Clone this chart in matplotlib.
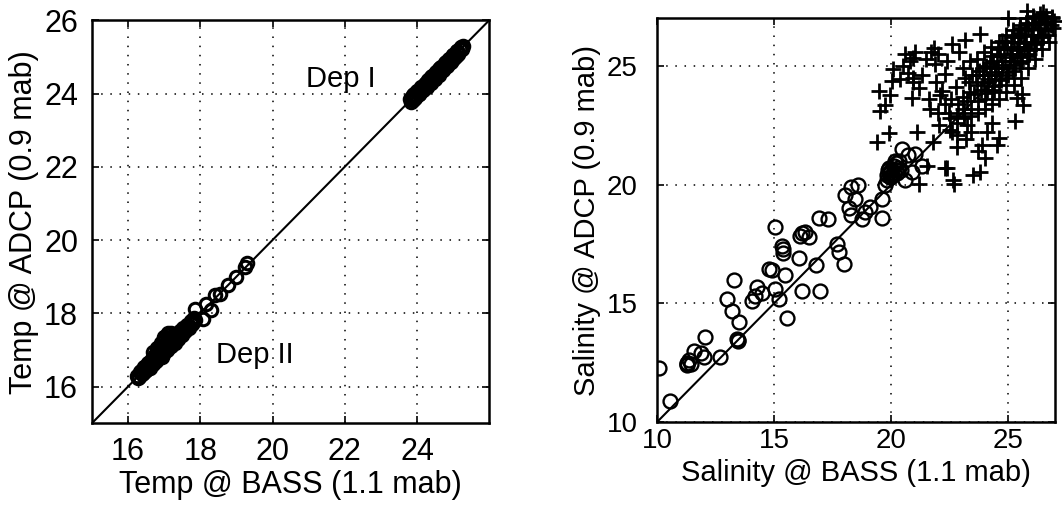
import matplotlib
matplotlib.use("Agg")
import matplotlib.pyplot as plt
import numpy as np

plt.rcParams['font.family'] = ['Liberation Sans', 'DejaVu Sans']

# ---- temperature, Dep I (cluster near 24-25) ----
temp1_bass = [23.80, 23.86, 23.92, 23.97, 24.02, 24.08, 24.13, 24.18, 24.24, 24.30,
              24.35, 24.41, 24.46, 24.52, 24.57, 24.63, 24.68, 24.74, 24.80, 24.85,
              24.91, 24.96, 25.02, 25.07, 25.12, 25.18, 25.23, 25.28, 24.05, 24.38,
              24.70, 24.99, 23.90, 24.60, 25.15,
              23.83, 23.89, 23.95, 24.00, 24.05, 24.11, 24.16, 24.21, 24.27, 24.32,
              24.38, 24.43, 24.49, 24.54, 24.60, 24.65, 24.71, 24.77, 24.82, 24.88,
              24.93, 24.99, 25.04, 25.10, 25.15, 25.21, 25.26]
temp1_adcp = [23.86, 23.90, 23.98, 23.93, 24.08, 24.04, 24.19, 24.12, 24.29, 24.26,
              24.41, 24.36, 24.52, 24.47, 24.62, 24.58, 24.73, 24.69, 24.85, 24.80,
              24.95, 24.92, 25.06, 25.03, 25.16, 25.22, 25.27, 25.30, 23.99, 24.44,
              24.64, 25.05, 23.82, 24.66, 25.10,
              23.78, 23.96, 23.88, 24.07, 23.99, 24.17, 24.09, 24.27, 24.19, 24.38,
              24.30, 24.49, 24.41, 24.60, 24.50, 24.71, 24.63, 24.83, 24.75, 24.94,
              24.86, 25.05, 24.98, 25.15, 25.09, 25.25, 25.22]

# ---- temperature, Dep II (cluster near 16-19) ----
temp2_bass = [16.25, 16.30, 16.35, 16.40, 16.45, 16.50, 16.55, 16.60, 16.65, 16.70,
              16.75, 16.80, 16.85, 16.90, 16.95, 17.00, 17.05, 17.10, 17.15, 17.20,
              17.25, 17.30, 17.35, 17.40, 17.45, 17.50, 17.55, 17.60, 17.65, 17.70,
              17.75, 17.80, 17.85, 16.60, 16.85, 17.00, 17.10, 17.30, 16.95, 17.20,
              17.00, 17.08, 17.18, 17.85, 18.08, 18.15, 18.30, 18.41, 18.55, 18.78,
              19.00, 19.24, 19.28,
              16.27, 16.33, 16.38, 16.43, 16.48, 16.53, 16.58, 16.63, 16.68, 16.73,
              16.78, 16.83, 16.88, 16.93, 16.98, 17.03, 17.08, 17.13, 17.18, 17.23,
              17.28, 17.33, 17.38, 17.43, 17.48, 17.53, 17.58, 17.63, 17.68, 17.73,
              17.78, 17.83, 16.90, 17.00, 16.80, 17.10, 16.70]
temp2_adcp = [16.30, 16.26, 16.42, 16.38, 16.52, 16.46, 16.63, 16.55, 16.74, 16.66,
              16.85, 16.76, 16.95, 16.86, 17.06, 16.95, 17.18, 17.05, 17.27, 17.15,
              17.35, 17.28, 17.42, 17.38, 17.50, 17.47, 17.58, 17.56, 17.66, 17.64,
              17.73, 17.75, 17.82, 16.50, 16.98, 17.12, 17.26, 17.20, 16.82, 17.36,
              17.30, 17.40, 17.45, 18.12, 17.85, 18.25, 18.10, 18.49, 18.54, 18.76,
              18.99, 19.26, 19.36,
              16.22, 16.39, 16.33, 16.50, 16.42, 16.60, 16.51, 16.71, 16.61, 16.81,
              16.71, 16.92, 16.80, 17.02, 16.90, 17.13, 17.00, 17.23, 17.10, 17.33,
              17.21, 17.42, 17.31, 17.52, 17.41, 17.60, 17.51, 17.69, 17.61, 17.78,
              17.70, 17.88, 17.20, 17.35, 17.05, 17.45, 16.95]

# ---- salinity, Dep II (circles) ----
sal2_bass = [10.10, 10.57, 11.28, 11.30, 11.35, 11.60, 11.45, 12.06, 12.00, 11.90,
             12.70, 13.27, 12.99, 13.20, 13.50, 13.40, 13.48, 14.05, 14.27, 14.20,
             14.50, 14.90, 15.05, 15.20, 15.05, 15.33, 15.40, 15.47, 15.55, 16.05,
             16.10, 16.33, 16.47, 16.19, 16.80, 16.97, 16.90, 17.30, 17.70, 17.75,
             17.97, 18.03, 18.20, 18.30, 18.60, 18.45, 18.30, 18.75, 18.90, 19.10,
             19.60, 19.60, 19.75, 19.80, 19.90, 20.00, 20.10, 20.20, 19.85, 20.05,
             20.30, 20.15, 19.95, 20.25, 20.45, 20.70, 20.60, 21.30, 21.00, 20.90,
             14.77, 15.40, 16.20, 19.90, 20.00, 20.10, 20.20, 19.80, 20.35, 20.40,
             11.30, 13.45]
sal2_adcp = [12.26, 10.90, 12.50, 12.45, 12.60, 13.00, 12.45, 13.60, 12.76, 12.90,
             12.76, 16.00, 15.20, 14.67, 14.20, 13.50, 13.40, 15.10, 15.70, 15.30,
             15.45, 16.40, 15.60, 15.20, 18.20, 17.40, 17.10, 16.20, 14.40, 16.90,
             17.85, 18.00, 17.80, 15.50, 16.60, 15.50, 18.60, 18.55, 17.50, 17.15,
             16.65, 19.55, 19.00, 19.90, 20.00, 19.40, 18.70, 18.55, 18.85, 19.05,
             18.60, 19.40, 20.00, 20.40, 20.50, 20.60, 20.80, 20.90, 20.60, 20.40,
             20.70, 21.00, 20.30, 20.50, 21.50, 21.25, 20.20, 20.80, 21.30, 20.55,
             16.43, 17.30, 17.95, 20.70, 20.30, 20.50, 20.60, 20.20, 21.00, 20.60,
             12.40, 13.45]

# ---- salinity, Dep I (pluses) ----
sal1_bass = [19.46, 19.53, 19.39, 20.03, 19.89, 20.38, 20.60, 20.80, 20.95, 21.17,
             20.88, 21.17, 21.52, 21.70, 21.88, 22.16, 22.30, 22.30, 22.66, 22.02,
             22.59, 23.16, 23.50, 23.70, 23.87, 24.58, 24.72, 25.00, 25.57, 25.30,
             19.74, 20.95, 21.81, 23.80, 25.50, 25.80, 26.50, 25.37, 25.64, 23.80,
             22.65, 22.38, 20.94, 20.09, 19.96, 22.10, 21.67, 23.08, 23.23, 22.80,
             24.09, 24.52, 21.80, 21.10,
             22.50, 22.45, 22.55, 22.52, 22.80, 22.85, 22.75, 22.82,
             23.10, 23.05, 23.15, 23.12, 23.08, 23.40, 23.35, 23.45, 23.42, 23.38,
             23.70, 23.65, 23.75, 23.72, 23.68, 24.00, 23.95, 24.05, 24.02, 23.98,
             24.30, 24.25, 24.35, 24.32, 24.28, 24.60, 24.55, 24.65, 24.62, 24.58,
             24.90, 24.85, 24.95, 24.92, 24.88, 25.20, 25.15, 25.25, 25.22, 25.18,
             25.50, 25.45, 25.55, 25.52, 25.48, 25.80, 25.75, 25.85, 25.82, 25.78,
             26.10, 26.05, 26.15, 26.12, 26.40, 26.35, 26.45, 26.42,
             26.70, 26.65, 26.75, 26.90, 26.85,
             23.25, 23.30, 23.55, 23.60, 23.85, 23.90, 24.15, 24.20, 24.45, 24.50,
             24.75, 24.80, 25.05, 25.10, 25.35, 25.40, 25.65, 25.70, 25.95, 26.00,
             26.25, 26.30, 26.55, 26.60, 26.80, 26.95, 24.10, 24.40, 24.70, 25.00,
             25.30, 25.60, 25.90, 26.20, 26.50, 23.90, 24.25, 24.55, 24.85, 25.15,
             25.45, 25.75, 26.05, 26.35,
             20.50, 21.00, 21.30, 21.50, 20.70, 21.90, 22.00, 22.40, 22.60, 22.90,
             21.60, 22.30, 22.00, 22.80, 23.20, 23.40, 24.00, 24.30,
             24.15, 24.45, 24.75, 25.05, 25.35, 25.65, 25.95, 26.25, 26.55, 26.85,
             24.05, 24.35, 24.65, 24.95, 25.25, 25.55, 25.85, 26.15, 26.45]
sal1_adcp = [23.93, 23.08, 21.81, 24.36, 22.16, 24.43, 25.50, 25.20, 24.30, 24.07,
             23.65, 20.04, 20.80, 25.60, 25.06, 23.93, 24.64, 20.68, 20.04, 22.50,
             22.20, 26.10, 20.40, 21.40, 21.67, 21.95, 26.05, 27.00, 23.80, 22.66,
             23.36, 25.34, 25.76, 26.33, 26.60, 27.30, 27.25, 23.64, 23.36, 20.55,
             20.18, 20.68, 24.49, 24.85, 23.78, 23.78, 23.20, 23.20, 22.50, 22.10,
             22.23, 21.66, 21.80, 22.20,
             22.30, 23.00, 23.60, 22.80, 22.90, 23.40, 24.10, 22.60,
             23.00, 23.70, 24.50, 22.80, 24.90, 23.20, 23.90, 24.60, 22.90, 25.20,
             23.50, 24.20, 24.80, 23.00, 25.30, 23.60, 24.30, 25.00, 23.20, 25.60,
             23.90, 24.60, 25.20, 23.40, 25.80, 24.20, 24.90, 25.50, 23.60, 26.00,
             24.50, 25.20, 25.80, 23.90, 26.30, 24.80, 25.50, 26.00, 24.20, 26.50,
             25.10, 25.80, 26.30, 24.50, 26.70, 25.40, 26.00, 26.60, 24.90, 27.00,
             25.70, 26.30, 26.80, 25.30, 26.00, 26.60, 27.00, 25.70,
             26.30, 26.80, 26.00, 26.60, 27.00,
             23.50, 24.30, 23.80, 24.60, 24.00, 24.90, 24.30, 25.10, 24.60, 25.40,
             24.90, 25.70, 25.20, 26.00, 25.50, 26.20, 25.80, 26.50, 26.00, 26.70,
             26.30, 26.90, 26.50, 27.10, 26.70, 26.90, 24.00, 24.00, 24.40, 24.60,
             24.90, 25.20, 25.50, 25.90, 26.20, 24.60, 25.40, 25.70, 26.00, 26.20,
             26.40, 26.80, 27.10, 27.20,
             25.00, 25.60, 24.60, 25.30, 24.70, 24.30, 25.50, 25.20, 25.90, 25.60,
             23.60, 23.40, 23.00, 21.60, 21.90, 22.20, 21.10, 22.60,
             24.45, 24.75, 25.05, 25.35, 25.65, 25.95, 26.25, 26.55, 26.85, 27.05,
             23.85, 24.15, 24.45, 24.75, 25.05, 25.35, 25.65, 25.95, 26.25]

temp_ticks = [16, 18, 20, 22, 24, 26]
sal_ticks = [10, 15, 20, 25]

fig = plt.figure(figsize=(10.62, 5.08), dpi=100)
ax1 = fig.add_axes([0.0866, 0.167, 0.374, 0.793])
ax2 = fig.add_axes([0.6186, 0.169, 0.375, 0.795])

grid_kw = dict(color='black', linestyle=(0, (1, 5)), linewidth=1.1)
mk = dict(linestyle='none', color='black', markerfacecolor='none')

# left: temperature
ax1.plot([15, 26], [15, 26], color='black', linewidth=1.5)
ax1.plot(temp1_bass, temp1_adcp, marker='o', markersize=9, markeredgewidth=2.2, **mk)
ax1.plot(temp2_bass, temp2_adcp, marker='o', markersize=9, markeredgewidth=2.2, **mk)
ax1.set_xlim(15, 26)
ax1.set_ylim(15, 26)
ax1.set_xticks(temp_ticks[:-1])
ax1.set_yticks(temp_ticks)
ax1.grid(True, **grid_kw)
ax1.text(21.9, 24.4, 'Dep I', fontsize=21, ha='center', va='center')
ax1.text(19.5, 16.85, 'Dep II', fontsize=21, ha='center', va='center')
ax1.set_xlabel('Temp @ BASS (1.1 mab)', fontsize=22, labelpad=2)
ax1.set_ylabel('Temp @ ADCP (0.9 mab)', fontsize=22, labelpad=4)
ax1.tick_params(labelsize=22, direction='in', length=5, width=1.2,
                top=True, right=True, pad=10)

# right: salinity
ax2.plot([10, 27], [10, 27], color='black', linewidth=1.5)
ax2.plot(sal2_bass, sal2_adcp, marker='o', markersize=10, markeredgewidth=1.7, **mk)
ax2.plot(sal1_bass, sal1_adcp, marker='+', markersize=11, markeredgewidth=2.0,
         clip_on=False, **mk)
ax2.set_xlim(10, 27)
ax2.set_ylim(10, 27)
ax2.set_xticks(sal_ticks)
ax2.set_yticks(sal_ticks)
ax2.grid(True, **grid_kw)
ax2.set_xlabel('Salinity @ BASS (1.1 mab)', fontsize=21, labelpad=4)
ax2.set_ylabel('Salinity @ ADCP (0.9 mab)', fontsize=21, labelpad=4)
ax2.tick_params(labelsize=20, direction='in', length=5, width=1.2,
                top=True, right=True)
ax2.tick_params(axis='x', pad=4)
ax2.tick_params(axis='y', pad=14)

for ax in (ax1, ax2):
    for s in ax.spines.values():
        s.set_linewidth(1.8)

fig.savefig('out.png', dpi=100)
